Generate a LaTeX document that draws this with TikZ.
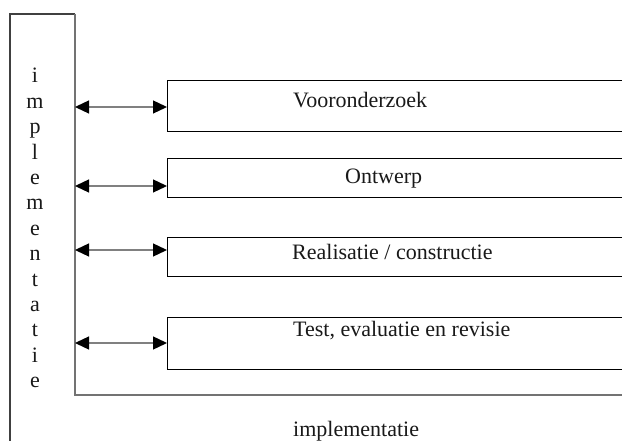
\documentclass[tikz,border=0pt]{standalone}
\usepackage{fontspec}
\setmainfont{Liberation Serif}
\usetikzlibrary{arrows.meta}
\tikzset{
  stagebox/.style={draw=black, line width=1pt, fill=none, minimum width=520pt,
    anchor=north west, inner sep=0pt, outer sep=0pt},
  label/.style={font=\fontsize{22}{25}\selectfont, inner sep=0pt, text=black!90},
  letter/.style={font=\fontsize{22}{25}\selectfont, inner sep=0pt, anchor=base, text=black!90},
  frame/.style={draw=black!75, line width=1.1pt},
  frameedge/.style={draw=black!55, line width=1.4pt},
  link/.style={draw=black!50, line width=1.3pt,
    {Triangle[length=14pt,width=13pt,color=black]}-{Triangle[length=14pt,width=13pt,color=black]}}
}
\begin{document}
\begin{tikzpicture}[x=1pt,y=-1pt]
\useasboundingbox (0,0) rectangle (622,441);
\clip (0,0) rectangle (622,441);
\fill[white] (0,0) rectangle (622,441);

% outer implementation frame
\draw[frame] (10,460) -- (10,14) -- (75,14);
\draw[frameedge] (75,14) -- (75,395) -- (660,395);

% vertical word
\foreach \ch [count=\k from 0] in {i,m,p,l,e,m,e,n,t,a,t,i,e} {
  \node[letter] (v\k) at (35,{83+25.4*\k}) {\ch};
}

% stage boxes
\node[stagebox, minimum height=51pt] (b1) at (167,81) {};
\node[stagebox, minimum height=39pt] (b2) at (167,159) {};
\node[stagebox, minimum height=39pt] (b3) at (167,238) {};
\node[stagebox, minimum height=52pt] (b4) at (167,317) {};

\node[label, anchor=base west] (t1) at (293,108) {Vooronderzoek};
\node[label, anchor=base west] (t2) at (345,184) {Ontwerp};
\node[label, anchor=base west] (t3) at (292,260) {Realisatie / constructie};
\node[label, anchor=base west] (t4) at (293,336) {Test, evaluatie en revisie};
\node[label, anchor=base west] (t5) at (293,436) {implementatie};

% connections between frame and stages
\coordinate (a1) at (75,107);
\coordinate (a2) at (75,186);
\coordinate (a3) at (75,250);
\coordinate (a4) at (75,343);
\draw[link] (a1) -- (a1 -| b1.west);
\draw[link] (a2) -- (a2 -| b2.west);
\draw[link] (a3) -- (a3 -| b3.west);
\draw[link] (a4) -- (a4 -| b4.west);
\end{tikzpicture}
\end{document}
